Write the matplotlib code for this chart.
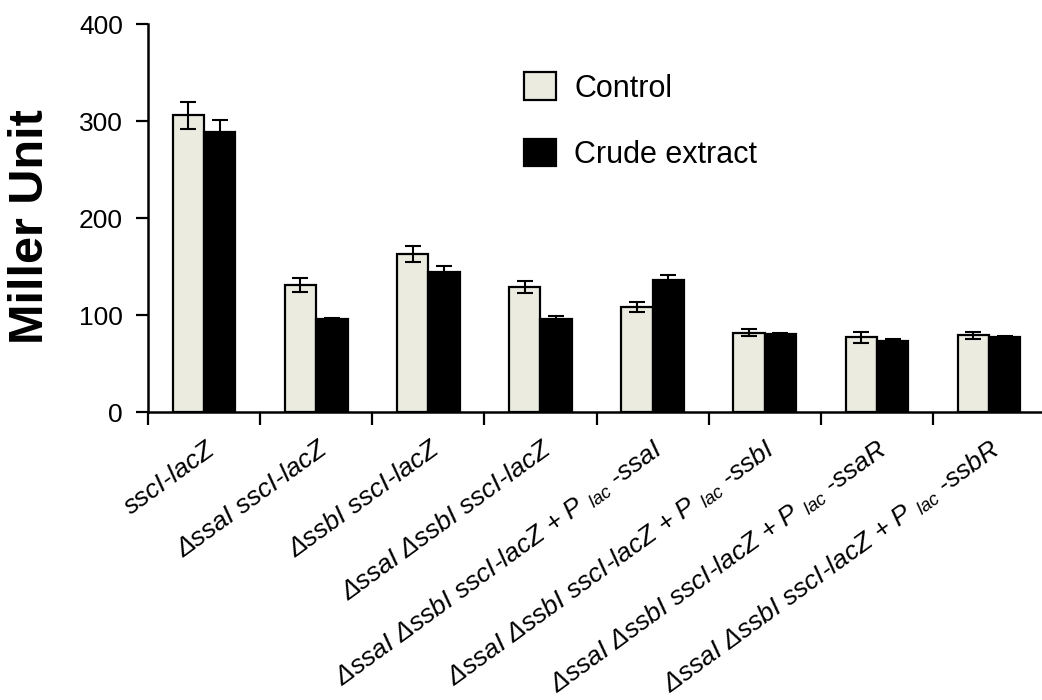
import numpy as np
import matplotlib
matplotlib.use('Agg')
import matplotlib.pyplot as plt
import matplotlib.transforms as mtransforms

plt.rcParams['font.family'] = ['Liberation Sans', 'DejaVu Sans']
plt.rcParams['mathtext.fontset'] = 'custom'
plt.rcParams['mathtext.rm'] = 'Liberation Sans'
plt.rcParams['mathtext.it'] = 'Liberation Sans:italic'

# data
Strains = ['sscI-lacZ',
           '\u0394ssaI sscI-lacZ',
           '\u0394ssbI sscI-lacZ',
           '\u0394ssaI \u0394ssbI sscI-lacZ',
           '\u0394ssaI \u0394ssbI sscI-lacZ + P $_{lac}$ -ssaI',
           '\u0394ssaI \u0394ssbI sscI-lacZ + P $_{lac}$ -ssbI',
           '\u0394ssaI \u0394ssbI sscI-lacZ + P $_{lac}$ -ssaR',
           '\u0394ssaI \u0394ssbI sscI-lacZ + P $_{lac}$ -ssbR']
Control = [306, 131, 163, 129, 108, 82, 77, 79]
ControlErr = [14, 7, 8, 6, 5, 4, 6, 4]
Crude = [289, 96, 144, 96, 136, 80, 73, 77]
CrudeErr = [12, 1, 7, 3, 5, 2, 2, 1]

Figure = plt.figure(figsize=(10.42, 7.0), dpi=100)
Axes = Figure.add_axes([0.142, 0.4114, 0.861, 0.554])

X = np.arange(len(Strains))
Width = 0.28
Axes.bar(X - Width/2, Control, Width, color='#ECEBE0', edgecolor='black', linewidth=1.6, label='Control', zorder=2)
Axes.bar(X + Width/2, Crude, Width, color='black', edgecolor='black', linewidth=1.6, label='Crude extract', zorder=2)
Axes.errorbar(X - Width/2, Control, yerr=ControlErr, fmt='none', ecolor='black', elinewidth=1.5, capsize=6, capthick=1.5, zorder=3)
Axes.errorbar(X + Width/2, Crude, yerr=CrudeErr, fmt='none', ecolor='black', elinewidth=1.5, capsize=6, capthick=1.5, zorder=3)

Axes.set_xlim(-0.5, len(Strains) - 0.5)
Axes.set_ylim(0, 400)
Axes.set_yticks([0, 100, 200, 300, 400])
Axes.tick_params(axis='y', labelsize=19, width=1.6, length=9, pad=9)

Axes.set_xticks(X)
Axes.set_xticklabels(Strains, rotation=36, ha='right', va='center', rotation_mode='anchor',
                     fontsize=19, fontstyle='italic')
Axes.tick_params(axis='x', which='major', length=0, pad=25)
Shift = mtransforms.ScaledTranslation(8/100, 0, Figure.dpi_scale_trans)
for Label in Axes.get_xticklabels():
    Label.set_transform(Label.get_transform() + Shift)
Axes.set_xticks(np.arange(-0.5, len(Strains) - 1, 1.0), minor=True)
Axes.tick_params(axis='x', which='minor', length=9, width=1.6)

for Side in ['top', 'right']:
    Axes.spines[Side].set_visible(False)
for Side in ['left', 'bottom']:
    Axes.spines[Side].set_linewidth(1.8)

Axes.legend(loc='upper left', bbox_to_anchor=(0.402, 0.915), frameon=False, fontsize=22,
            handlelength=1.05, handleheight=1.0, handletextpad=0.6, labelspacing=1.15, borderpad=0)

Figure.text(31/1042, 1 - 227/700, 'Miller Unit', rotation=90, ha='center', va='center',
            fontsize=35, fontweight='bold')

Figure.savefig('out.png', dpi=100)
